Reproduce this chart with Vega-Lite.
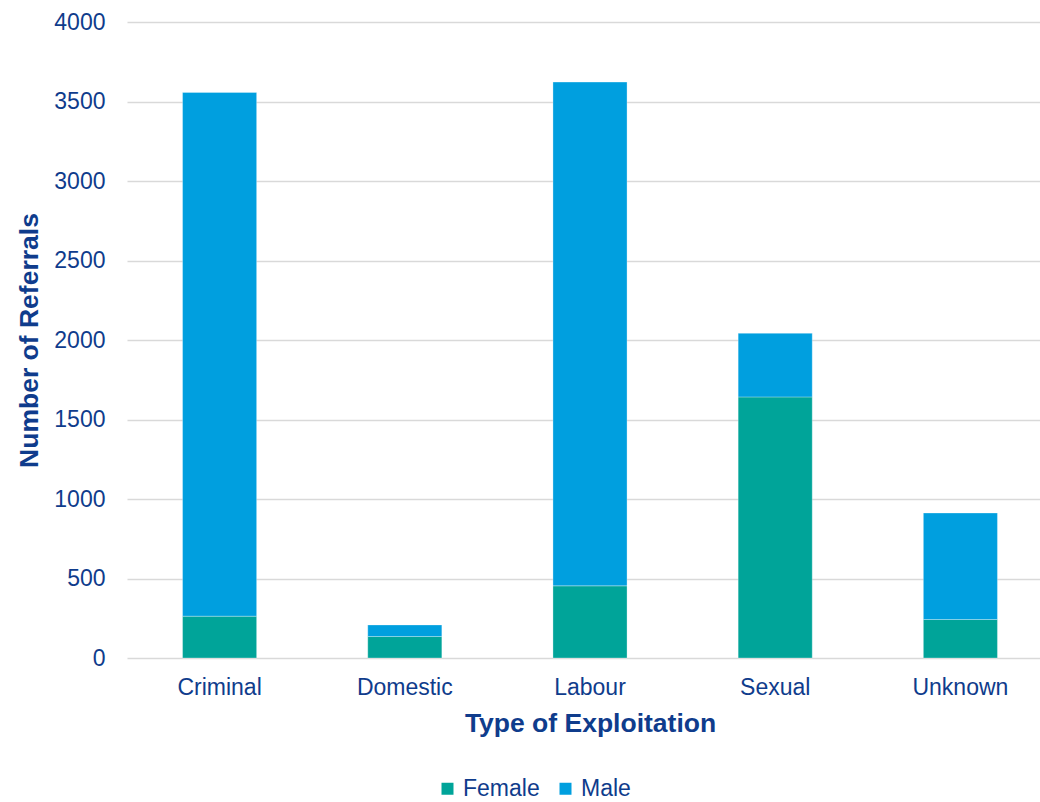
{
  "$schema": "https://vega.github.io/schema/vega-lite/v6.json",
  "width": 926,
  "height": 636,
  "autosize": {"type": "none"},
  "padding": {"left": 127, "top": 22, "right": 0, "bottom": 144},
  "background": "#ffffff",
  "config": {
    "view": {"stroke": null},
    "font": "Liberation Sans",
    "axis": {"labelFont": "Liberation Sans", "titleFont": "Liberation Sans"},
    "legend": {"labelFont": "Liberation Sans"}
  },
  "data": {
    "values": [
      {"type": "Criminal", "sex": "Female", "count": 263},
      {"type": "Criminal", "sex": "Male", "count": 3294},
      {"type": "Domestic", "sex": "Female", "count": 135},
      {"type": "Domestic", "sex": "Male", "count": 73},
      {"type": "Labour", "sex": "Female", "count": 454},
      {"type": "Labour", "sex": "Male", "count": 3168},
      {"type": "Sexual", "sex": "Female", "count": 1642},
      {"type": "Sexual", "sex": "Male", "count": 400},
      {"type": "Unknown", "sex": "Female", "count": 242},
      {"type": "Unknown", "sex": "Male", "count": 670}
    ]
  },
  "mark": {"type": "bar", "stroke": "#ffffff", "strokeWidth": 0.6, "strokeOpacity": 0.5},
  "encoding": {
    "x": {
      "field": "type",
      "type": "nominal",
      "sort": ["Criminal", "Domestic", "Labour", "Sexual", "Unknown"],
      "scale": {"paddingInner": 0.6, "paddingOuter": 0.3},
      "axis": {
        "title": "Type of Exploitation",
        "labelAngle": 0,
        "labelFontSize": 23,
        "labelColor": "#0F3C8C",
        "labelPadding": 18,
        "ticks": false,
        "domain": false,
        "titleFontSize": 26.5,
        "titleFontWeight": "bold",
        "titleColor": "#0F3C8C",
        "titlePadding": 11
      }
    },
    "y": {
      "field": "count",
      "type": "quantitative",
      "stack": "zero",
      "scale": {"domain": [0, 4000], "nice": false},
      "axis": {
        "title": "Number of Referrals",
        "values": [0, 500, 1000, 1500, 2000, 2500, 3000, 3500, 4000],
        "format": "d",
        "labelFontSize": 23,
        "labelColor": "#0F3C8C",
        "labelPadding": 22,
        "ticks": false,
        "domain": false,
        "grid": true,
        "gridColor": "#D9D9D9",
        "gridWidth": 1.5,
        "titleFontSize": 26.5,
        "titleFontWeight": "bold",
        "titleColor": "#0F3C8C",
        "titlePadding": 10
      }
    },
    "color": {
      "field": "sex",
      "type": "nominal",
      "scale": {"domain": ["Female", "Male"], "range": ["#00A499", "#009FDF"]},
      "legend": {
        "title": null,
        "orient": "none",
        "direction": "horizontal",
        "legendX": 309,
        "legendY": 755,
        "symbolType": "square",
        "symbolSize": 144,
        "symbolStrokeWidth": 0,
        "labelFontSize": 23,
        "labelColor": "#0F3C8C",
        "labelOffset": 4,
        "columnPadding": 14
      }
    },
    "order": {"field": "sex", "sort": "ascending"}
  }
}
